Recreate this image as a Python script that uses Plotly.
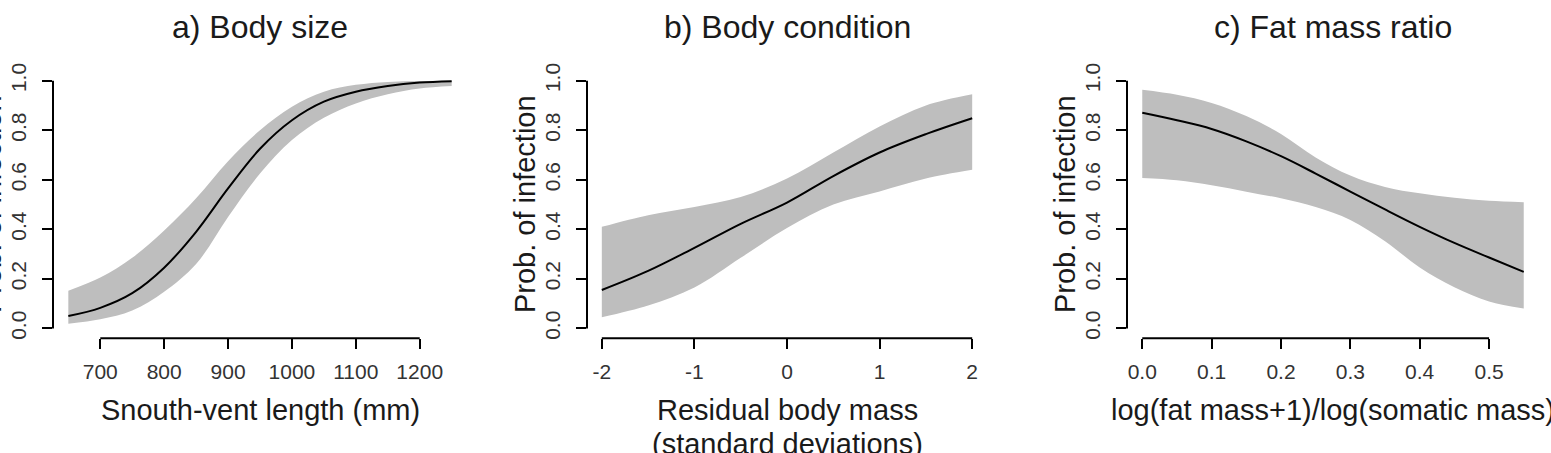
import plotly.graph_objects as go

# ---------------- data ----------------
a_x = [650, 700, 750, 800, 850, 900, 950, 1000, 1050, 1100, 1150, 1200, 1250]
a_mean = [0.05, 0.083, 0.142, 0.245, 0.39, 0.565, 0.725, 0.84, 0.915, 0.955, 0.978, 0.992, 0.998]
a_upper = [0.152, 0.205, 0.285, 0.395, 0.525, 0.675, 0.80, 0.895, 0.955, 0.983, 0.995, 0.999, 1.0]
a_lower = [0.019, 0.037, 0.072, 0.148, 0.26, 0.45, 0.625, 0.76, 0.85, 0.908, 0.945, 0.968, 0.978]

b_x = [-2, -1.5, -1, -0.5, 0, 0.5, 1, 1.5, 2]
b_mean = [0.155, 0.232, 0.325, 0.422, 0.508, 0.615, 0.71, 0.784, 0.848]
b_upper = [0.41, 0.457, 0.49, 0.53, 0.605, 0.71, 0.815, 0.9, 0.945]
b_lower = [0.045, 0.092, 0.165, 0.285, 0.405, 0.5, 0.553, 0.605, 0.64]

c_x = [0, 0.05, 0.1, 0.15, 0.2, 0.25, 0.3, 0.35, 0.4, 0.45, 0.5, 0.55]
c_mean = [0.87, 0.84, 0.805, 0.755, 0.695, 0.625, 0.552, 0.48, 0.41, 0.345, 0.286, 0.228]
c_upper = [0.963, 0.943, 0.91, 0.857, 0.785, 0.69, 0.617, 0.571, 0.545, 0.527, 0.515, 0.509]
c_lower = [0.607, 0.598, 0.578, 0.552, 0.525, 0.49, 0.438, 0.352, 0.246, 0.166, 0.109, 0.08]

y_ticks = [0, 0.2, 0.4, 0.6, 0.8, 1.0]
y_ticklabels = ["0.0", "0.2", "0.4", "0.6", "0.8", "1.0"]
a_ticks = [700, 800, 900, 1000, 1100, 1200]
a_ticklabels = ["700", "800", "900", "1000", "1100", "1200"]
b_ticks = [-2, -1, 0, 1, 2]
b_ticklabels = ["-2", "-1", "0", "1", "2"]
c_ticks = [0, 0.1, 0.2, 0.3, 0.4, 0.5]
c_ticklabels = ["0.0", "0.1", "0.2", "0.3", "0.4", "0.5"]

titles = ["a) Body size", "b) Body condition", "c) Fat mass ratio"]
x_titles = ["Snouth-vent length (mm)", "Residual body mass", "log(fat mass+1)/log(somatic mass)"]
x_title2 = "(standard deviations)"
y_title = "Prob. of infection"

# ---------------- layout geometry ----------------
W, H = 1551, 453
FONT = "Liberation Sans, Arial, Helvetica, sans-serif"
BAND = "#bebebe"

# plot regions in pixels (left, right)
regions = [(53, 467), (587, 987), (1127, 1539)]
top_px, bot_px = 64, 337
ydom = [1 - bot_px / H, 1 - top_px / H]


def ext(lo, hi):
    d = (hi - lo) * 0.04
    return [lo - d, hi + d]


fig = go.Figure()

panels = [
    (a_x, a_mean, a_upper, a_lower, a_ticks, a_ticklabels),
    (b_x, b_mean, b_upper, b_lower, b_ticks, b_ticklabels),
    (c_x, c_mean, c_upper, c_lower, c_ticks, c_ticklabels),
]

shapes = []
annotations = []
for i, (xs, m, up, lo, xt, xtl) in enumerate(panels):
    k = "" if i == 0 else str(i + 1)
    xa, ya = "x" + k, "y" + k
    fig.add_trace(go.Scatter(x=xs, y=lo, mode="lines", line=dict(width=0, shape="spline", smoothing=1.0),
                             xaxis=xa, yaxis=ya, showlegend=False, hoverinfo="skip"))
    fig.add_trace(go.Scatter(x=xs, y=up, mode="lines", line=dict(width=0, shape="spline", smoothing=1.0),
                             fill="tonexty", fillcolor=BAND,
                             xaxis=xa, yaxis=ya, showlegend=False, hoverinfo="skip"))
    fig.add_trace(go.Scatter(x=xs, y=m, mode="lines", line=dict(color="black", width=2, shape="spline", smoothing=1.0),
                             xaxis=xa, yaxis=ya, showlegend=False))

    l, r = regions[i]
    common_tick = dict(ticks="outside", ticklen=10, tickwidth=2, tickcolor="black",
                       showgrid=False, zeroline=False, showline=False,
                       tickfont=dict(family=FONT, size=21, color="#333333"))
    fig.layout["xaxis" + k] = dict(domain=[l / W, r / W], anchor=ya, range=ext(min(xs), max(xs)),
                                   tickvals=xt, ticktext=xtl, ticklabelstandoff=4, **common_tick)
    fig.layout["yaxis" + k] = dict(domain=ydom, anchor=xa, range=ext(0, 1),
                                   tickvals=y_ticks, ticktext=y_ticklabels, tickangle=-90,
                                   ticklabelstandoff=8, **common_tick)

    # R-style axis lines spanning first to last tick
    shapes.append(dict(type="line", xref=xa, yref=ya + " domain", x0=min(xt), x1=max(xt), y0=0, y1=0,
                       line=dict(color="black", width=2)))
    shapes.append(dict(type="line", xref=xa + " domain", yref=ya, x0=0, x1=0, y0=min(y_ticks), y1=max(y_ticks),
                       line=dict(color="black", width=2)))

    cx = (l + r) / 2 / W
    annotations.append(dict(text=titles[i], x=cx, y=1 - 19 / H, xref="paper", yref="paper",
                            xanchor="center", yanchor="middle", showarrow=False,
                            font=dict(family=FONT, size=32, color="#1a1a1a")))
    annotations.append(dict(text=x_titles[i], x=cx, y=1 - 410 / H, xref="paper", yref="paper",
                            xanchor="center", yanchor="middle", showarrow=False,
                            font=dict(family=FONT, size=29, color="#1a1a1a")))
    annotations.append(dict(text=y_title, x=(l - 62) / W, y=1 - 200 / H, xref="paper", yref="paper",
                            xanchor="center", yanchor="middle", showarrow=False, textangle=-90,
                            font=dict(family=FONT, size=29, color="#1a1a1a")))

annotations.append(dict(text=x_title2, x=(regions[1][0] + regions[1][1]) / 2 / W, y=1 - 445 / H,
                        xref="paper", yref="paper", xanchor="center", yanchor="middle", showarrow=False,
                        font=dict(family=FONT, size=29, color="#1a1a1a")))

fig.update_layout(width=W, height=H, margin=dict(l=0, r=0, t=0, b=0),
                  paper_bgcolor="white", plot_bgcolor="white",
                  shapes=shapes, annotations=annotations, showlegend=False)

fig.write_html("out.html", config={"displayModeBar": False})
